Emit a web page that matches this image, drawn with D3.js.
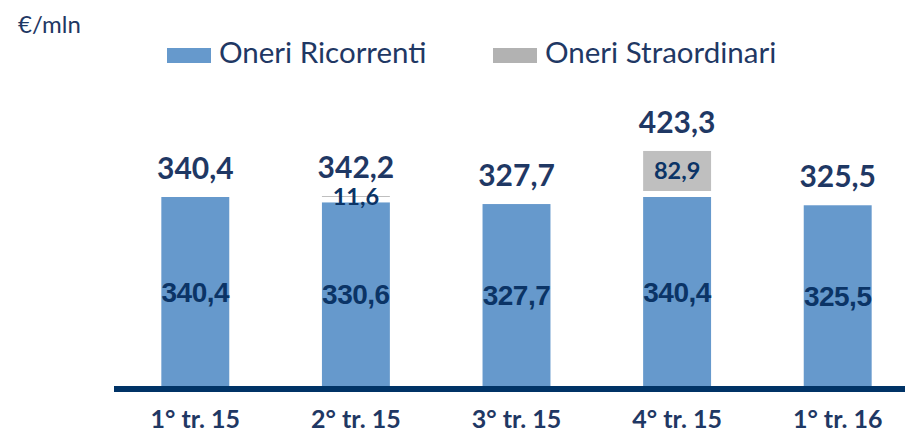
<!DOCTYPE html>
<html>
<head>
<meta charset="utf-8">
<script src="https://cdn.jsdelivr.net/npm/d3@7"></script>
<style>
  body { margin: 0; background: #fff; }
  svg { display: block; }
</style>
</head>
<body>
<script>
// data
var quarters = ["1° tr. 15", "2° tr. 15", "3° tr. 15", "4° tr. 15", "1° tr. 16"];
var ricorrenti = [340.4, 330.6, 327.7, 340.4, 325.5];
var straordinari = [0, 11.6, 0, 82.9, 0];
var totali = [340.4, 342.2, 327.7, 423.3, 325.5];
var seriesNames = ["Oneri Ricorrenti", "Oneri Straordinari"];

var W = 905, H = 433;
var blue = "#6699cc", grey = "#bfbfbf", navy = "#1f3864", axisNavy = "#003366";
var calibri = "Lato, 'Open Sans', sans-serif";
var arial = "'Liberation Sans', Arial, sans-serif";

var fmt = function(v){ return d3.format(".1f")(v).replace(".", ","); };

var svg = d3.select("body").append("svg")
    .attr("width", W)
    .attr("height", H);

var x = d3.scaleBand()
    .domain(quarters)
    .range([115, 918])
    .paddingInner(0.577)
    .paddingOuter(0.2885);

var y = d3.scaleLinear()
    .domain([0, 340.4])
    .range([386, 197]);

// unit label
svg.append("text")
    .attr("x", 18).attr("y", 33)
    .attr("fill", navy)
    .attr("font-family", calibri)
    .attr("font-size", 24)
    .text("€/mln");

// legend
var leg = [{x: 167, c: "#6699cc"}, {x: 493, c: "#b2b2b2"}];
leg.forEach(function(l, i){
  svg.append("rect")
    .attr("x", l.x).attr("y", 48)
    .attr("width", 44).attr("height", 15)
    .attr("fill", l.c);
  svg.append("text")
    .attr("x", l.x + 52).attr("y", 63)
    .attr("fill", navy)
    .attr("font-family", calibri)
    .attr("font-size", 29.5)
    .text(seriesNames[i]);
});

// blue segments
svg.selectAll("rect.ric")
  .data(quarters)
  .enter().append("rect")
    .attr("class", "ric")
    .attr("x", function(d){ return x(d); })
    .attr("width", x.bandwidth())
    .attr("y", function(d, i){ return y(ricorrenti[i]); })
    .attr("height", function(d, i){ return y(0) - y(ricorrenti[i]); })
    .attr("fill", blue);

// grey segments (white gap at the bottom, as in the original)
var gap = 6;
var extra = quarters.filter(function(d, i){ return straordinari[i] > 0; });
function gTop(d){ var i = quarters.indexOf(d); return y(ricorrenti[i] + straordinari[i]); }
function gH(d){ var i = quarters.indexOf(d); return Math.max(1, y(ricorrenti[i]) - y(ricorrenti[i] + straordinari[i]) - gap); }

svg.selectAll("rect.str")
  .data(extra)
  .enter().append("rect")
    .attr("class", "str")
    .attr("x", function(d){ return x(d); })
    .attr("width", x.bandwidth())
    .attr("y", gTop)
    .attr("height", gH)
    .attr("fill", grey);

// axis line
svg.append("rect")
    .attr("x", 114).attr("y", 386)
    .attr("width", W - 114).attr("height", 6)
    .attr("fill", axisNavy);

// labels inside blue
svg.selectAll("text.ric")
  .data(quarters)
  .enter().append("text")
    .attr("class", "ric")
    .attr("x", function(d){ return x(d) + x.bandwidth() / 2; })
    .attr("y", function(d, i){ return (y(0) + y(ricorrenti[i])) / 2 + 10; })
    .attr("text-anchor", "middle")
    .attr("fill", "#0b3466")
    .attr("font-family", arial)
    .attr("font-weight", "bold")
    .attr("font-size", 28)
    .attr("letter-spacing", -0.5)
    .text(function(d, i){ return fmt(ricorrenti[i]); });

// labels on grey
svg.selectAll("text.str")
  .data(extra)
  .enter().append("text")
    .attr("class", "str")
    .attr("x", function(d){ return x(d) + x.bandwidth() / 2; })
    .attr("y", function(d){ return gTop(d) + gH(d) / 2 + 8; })
    .attr("text-anchor", "middle")
    .attr("fill", "#0b3466")
    .attr("font-family", calibri)
    .attr("font-weight", "bold")
    .attr("font-size", 23.5)
    .text(function(d){ return fmt(straordinari[quarters.indexOf(d)]); });

// totals
svg.selectAll("text.tot")
  .data(quarters)
  .enter().append("text")
    .attr("class", "tot")
    .attr("x", function(d){ return x(d) + x.bandwidth() / 2; })
    .attr("y", function(d, i){ return y(totali[i]) - 18; })
    .attr("text-anchor", "middle")
    .attr("fill", navy)
    .attr("font-family", calibri)
    .attr("font-weight", "bold")
    .attr("font-size", 30)
    .text(function(d, i){ return fmt(totali[i]); });

// category labels
svg.selectAll("text.cat")
  .data(quarters)
  .enter().append("text")
    .attr("class", "cat")
    .attr("x", function(d){ return x(d) + x.bandwidth() / 2; })
    .attr("y", 428)
    .attr("text-anchor", "middle")
    .attr("fill", navy)
    .attr("font-family", calibri)
    .attr("font-weight", "bold")
    .attr("font-size", 25)
    .text(function(d){ return d; });
</script>
</body>
</html>
